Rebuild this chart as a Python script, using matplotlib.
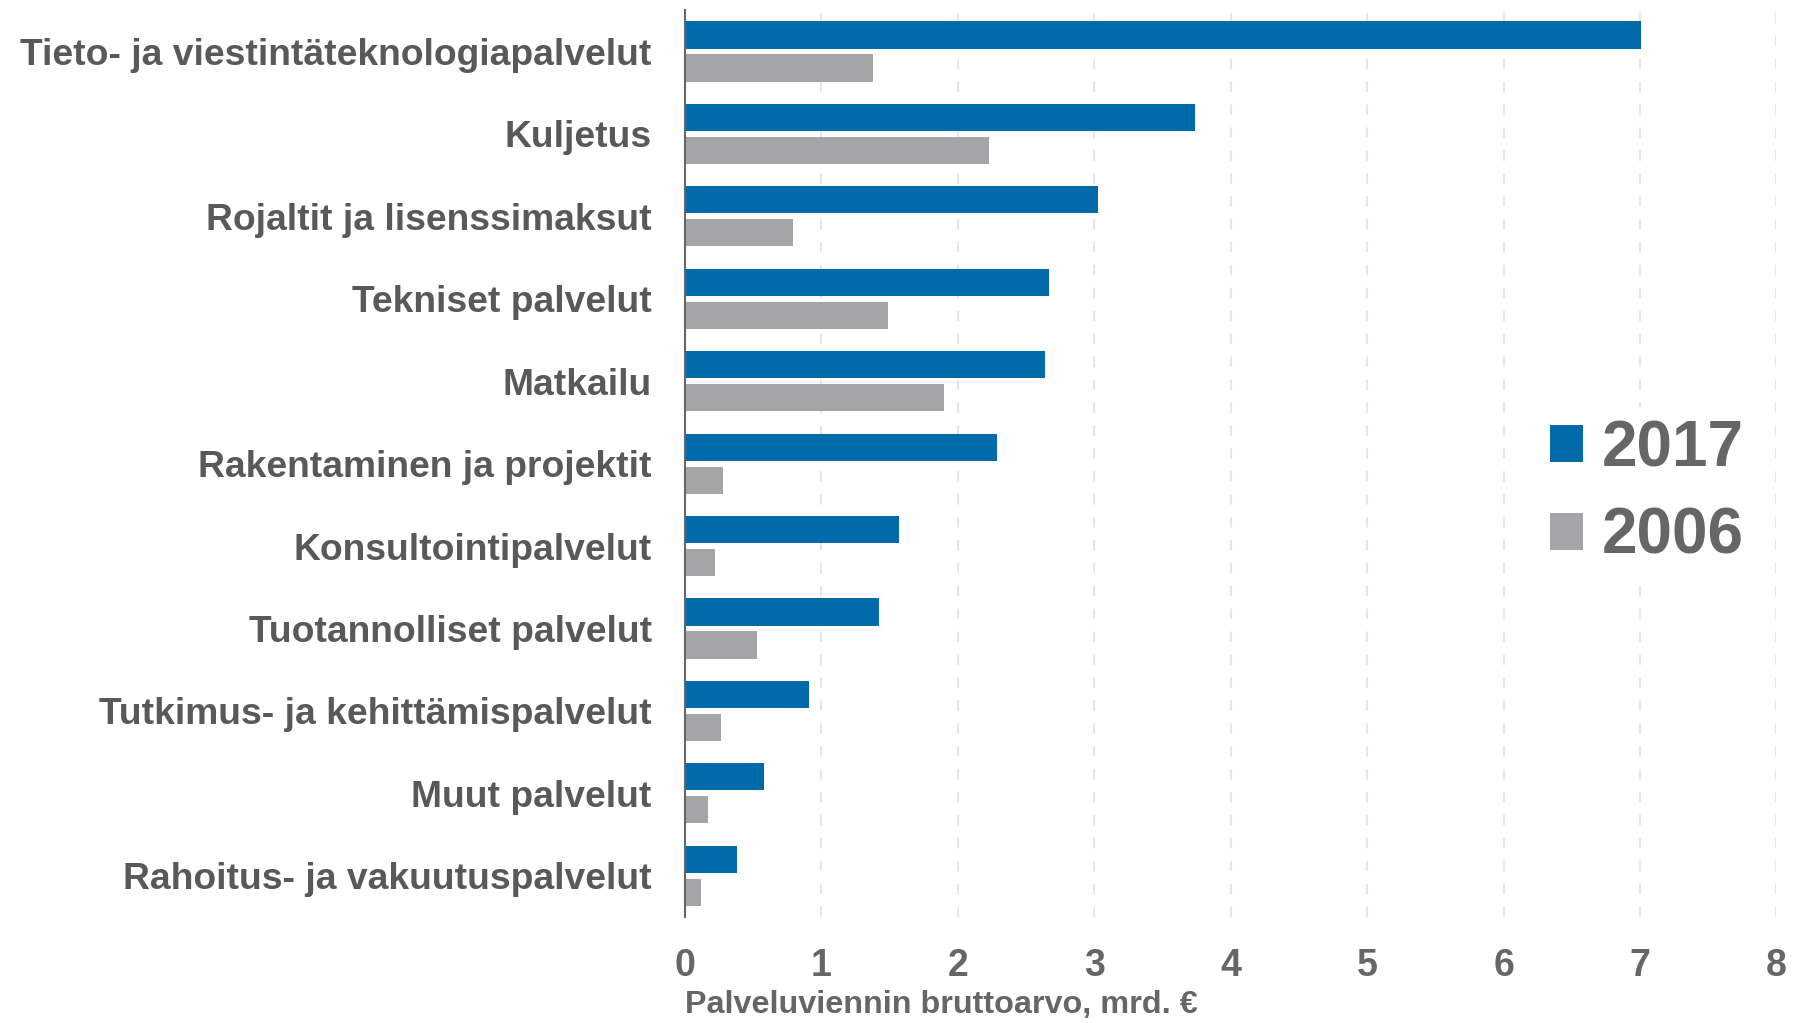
import matplotlib
matplotlib.use('Agg')
import matplotlib.pyplot as plt
import numpy as np

plt.rcParams['font.family'] = ['Liberation Sans', 'DejaVu Sans']

# palvelut, suurimmasta pienimpään
categories = ['Tieto- ja viestintäteknologiapalvelut', 'Kuljetus',
              'Rojaltit ja lisenssimaksut', 'Tekniset palvelut', 'Matkailu',
              'Rakentaminen ja projektit', 'Konsultointipalvelut',
              'Tuotannolliset palvelut', 'Tutkimus- ja kehittämispalvelut',
              'Muut palvelut', 'Rahoitus- ja vakuutuspalvelut']
v2017 = [7.01, 3.74, 3.03, 2.67, 2.64, 2.29, 1.57, 1.42, 0.91, 0.58, 0.38]
v2006 = [1.38, 2.23, 0.79, 1.49, 1.90, 0.28, 0.22, 0.53, 0.26, 0.17, 0.12]
xticks = [0, 1, 2, 3, 4, 5, 6, 7, 8]

blue = '#006aab'
grey = '#a5a5a7'
txt = '#595959'

fig = plt.figure(figsize=(17.98, 10.23), dpi=100)
ax = fig.add_axes([0.381, 0.1036, 0.607, 0.8864])

y = np.arange(len(categories))
h = 0.33
ax.barh(y - 0.2, v2017, height=h, color=blue, label='2017', zorder=3)
ax.barh(y + 0.2, v2006, height=h, color=grey, label='2006', zorder=3)

ax.set_ylim(len(categories) - 0.5, -0.5)
ax.set_xlim(0, 8)
ax.set_xticks(xticks)
ax.set_yticks(y)
ax.set_yticklabels(categories, fontsize=26.8, fontweight='bold', color=txt)
ax.tick_params(axis='y', length=0, pad=24)
ax.tick_params(axis='x', length=0, pad=22, labelsize=27, labelcolor='#666666')
for t in ax.get_xticklabels():
    t.set_fontweight('bold')

ax.grid(axis='x', color='#e6e6e6', linestyle=(0, (5, 6)), linewidth=1.5, zorder=0)
for s in ['top', 'right', 'bottom']:
    ax.spines[s].set_visible(False)
ax.spines['left'].set_color('#666666')
ax.spines['left'].set_linewidth(1.5)
ax.spines['left'].set_zorder(4)

fig.text(685 / 1798, 1 - 1005 / 1023, 'Palveluviennin bruttoarvo, mrd. €',
         ha='left', va='center', fontsize=23.3, fontweight='bold', color='#666666')

leg = ax.legend(loc='center', bbox_to_anchor=(0.916, 0.518), bbox_transform=fig.transFigure,
                fontsize=46, frameon=True, framealpha=1, edgecolor='white',
                handlelength=0.52, handleheight=0.52, handletextpad=0.3,
                labelspacing=0.43, borderpad=0.2, fancybox=False)
for t in leg.get_texts():
    t.set_color('#666666')
    t.set_fontweight('bold')

fig.savefig('out.png', dpi=100)
